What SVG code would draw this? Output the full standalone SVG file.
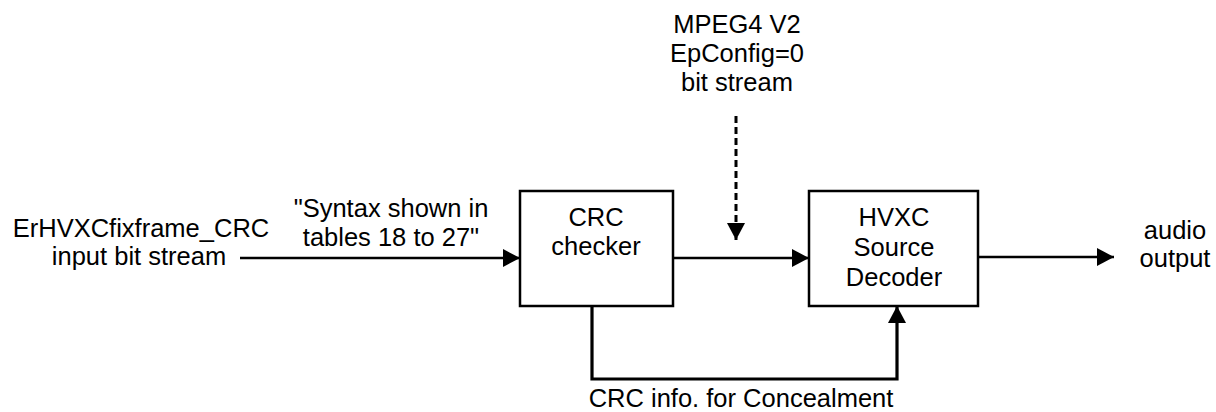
<svg xmlns="http://www.w3.org/2000/svg" width="1216" height="412" viewBox="0 0 1216 412">
<style>
text { font-family: "Liberation Sans", Arial, sans-serif; font-size: 25.5px; fill: #000; text-anchor: middle; }
.box { fill: #fff; stroke: #000; stroke-width: 2.5; }
.line { fill: none; stroke: #000; stroke-width: 2.5; }
.dash { stroke-width: 3; stroke-dasharray: 7 4; }
.thick { stroke-width: 3.2; }
</style>
<defs>
<marker id="arrow" markerUnits="userSpaceOnUse" markerWidth="20" markerHeight="20" refX="17" refY="9" orient="auto">
<path d="M0,0 L17,9 L0,18 z" fill="#000"/>
</marker>
</defs>
<rect width="1216" height="412" fill="#fff"/>
<g id="connectors">
<path class="line" d="M240,258 L520,258" marker-end="url(#arrow)"/>
<path class="line" d="M673,258 L809,258" marker-end="url(#arrow)"/>
<path class="line" d="M978,257 L1114,257" marker-end="url(#arrow)"/>
<path class="line dash" d="M736,116 L736,240" marker-end="url(#arrow)"/>
<path class="line thick" d="M592,306 L592,379 L897,379 L897,306" marker-end="url(#arrow)"/>
</g>
<g id="crc-checker">
<rect class="box" x="520" y="191" width="153" height="115"/>
<text x="596" y="225.5">CRC</text>
<text x="596" y="255">checker</text>
</g>
<g id="hvxc-decoder">
<rect class="box" x="809" y="191" width="169" height="115"/>
<text x="894" y="225.5">HVXC</text>
<text x="894" y="256">Source</text>
<text x="894" y="286">Decoder</text>
</g>
<g id="input-label">
<text x="141" y="236.5">ErHVXCfixframe_CRC</text>
<text x="139" y="265">input bit stream</text>
</g>
<g id="syntax-label">
<text x="391" y="216.5">"Syntax shown in</text>
<text x="391" y="246">tables 18 to 27"</text>
</g>
<g id="mpeg-label">
<text x="737" y="33">MPEG4 V2</text>
<text x="737" y="62">EpConfig=0</text>
<text x="737" y="91">bit stream</text>
</g>
<g id="output-label">
<text x="1175" y="239">audio</text>
<text x="1175" y="267">output</text>
</g>
<g id="feedback-label">
<text x="741" y="406.5">CRC info. for Concealment</text>
</g>
</svg>
